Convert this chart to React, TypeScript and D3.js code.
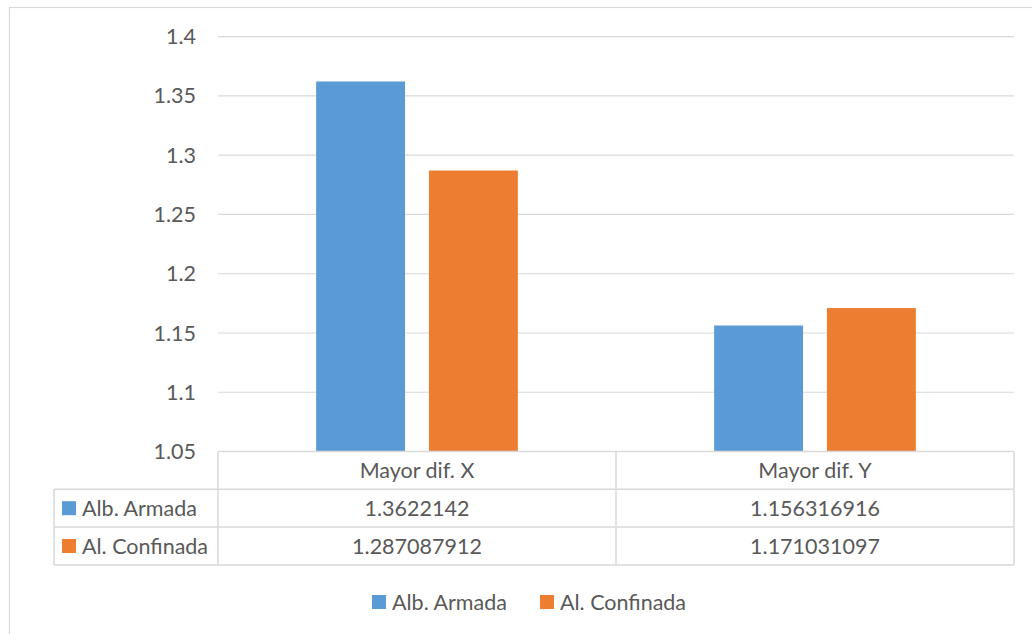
import * as d3 from 'd3'

const categories = ['Mayor dif. X', 'Mayor dif. Y']
const seriesNames = ['Alb. Armada', 'Al. Confinada']
const albArmada = [1.3622142, 1.156316916]
const alConfinada = [1.287087912, 1.171031097]
const tableLabels = [
  ['1.3622142', '1.156316916'],
  ['1.287087912', '1.171031097'],
]
const yTicks = [1.05, 1.1, 1.15, 1.2, 1.25, 1.3, 1.35, 1.4]
const colors = ['#5B9BD5', '#ED7D31']

const W = 1032
const H = 634
const font = 'Lato, "Open Sans", sans-serif'
const textColor = '#595959'
const gridColor = '#D9D9D9'
const fs = 21.5

export default function App() {
  const left = 218
  const right = 1014
  const top = 36.7
  const bottom = 451.5
  const labelLeft = 54
  const rowH = 37.8

  const y = d3.scaleLinear().domain([1.05, 1.4]).range([bottom, top])
  const x0 = d3.scaleBand<string>().domain(categories).range([left, right]).padding(0)
  const x1 = d3
    .scaleBand<string>()
    .domain(seriesNames)
    .range([0, x0.bandwidth()])
    .paddingInner(0.212)
    .paddingOuter(0.87)

  const series = [albArmada, alConfinada]

  return (
    <svg
      width={W}
      height={H}
      style={{ position: 'absolute', left: 0, top: 0, background: '#fff' }}
      fontFamily={font}
    >
      <rect x={9.5} y={7.5} width={1100} height={700} fill="#fff" stroke={gridColor} strokeWidth={1.2} />

      {/* gridlines + y ticks */}
      {yTicks.map((t) => (
        <g key={t}>
          {t > 1.05 && (
            <line x1={left} x2={right} y1={y(t)} y2={y(t)} stroke={gridColor} strokeWidth={1.2} />
          )}
          <text
            x={196}
            y={y(t)}
            dy="0.35em"
            textAnchor="end"
            fontSize={fs}
            fill={textColor}
          >
            {String(t)}
          </text>
        </g>
      ))}

      {/* bars */}
      {categories.map((c, i) => (
        <g key={c} transform={`translate(${x0(c)},0)`}>
          {series.map((s, j) => (
            <rect
              key={j}
              x={x1(seriesNames[j])}
              width={x1.bandwidth()}
              y={y(s[i])}
              height={bottom - y(s[i])}
              fill={colors[j]}
            />
          ))}
        </g>
      ))}

      {/* data table */}
      <g stroke={gridColor} strokeWidth={1.5} fill="none">
        <line x1={left} x2={right} y1={bottom} y2={bottom} />
        <line x1={labelLeft} x2={right} y1={bottom + rowH} y2={bottom + rowH} />
        <line x1={labelLeft} x2={right} y1={bottom + rowH * 2} y2={bottom + rowH * 2} />
        <line x1={labelLeft} x2={right} y1={bottom + rowH * 3} y2={bottom + rowH * 3} />
        <line x1={labelLeft} x2={labelLeft} y1={bottom + rowH} y2={bottom + rowH * 3} />
        <line x1={left} x2={left} y1={bottom} y2={bottom + rowH * 3} />
        {categories.map((c) => (
          <line
            key={c}
            x1={(x0(c) as number) + x0.bandwidth()}
            x2={(x0(c) as number) + x0.bandwidth()}
            y1={bottom}
            y2={bottom + rowH * 3}
          />
        ))}
      </g>
      {categories.map((c) => (
        <text
          key={c}
          x={(x0(c) as number) + x0.bandwidth() / 2}
          y={bottom + rowH / 2}
          dy="0.35em"
          textAnchor="middle"
          fontSize={fs}
          fill={textColor}
        >
          {c}
        </text>
      ))}
      {seriesNames.map((name, j) => (
        <g key={name}>
          <rect
            x={62}
            y={bottom + rowH * (j + 1) + rowH / 2 - 7}
            width={14}
            height={14}
            fill={colors[j]}
          />
          <text
            x={82}
            y={bottom + rowH * (j + 1) + rowH / 2}
            dy="0.35em"
            fontSize={fs}
            fill={textColor}
          >
            {name}
          </text>
          {categories.map((c, i) => (
            <text
              key={c}
              x={(x0(c) as number) + x0.bandwidth() / 2}
              y={bottom + rowH * (j + 1) + rowH / 2}
              dy="0.35em"
              textAnchor="middle"
              fontSize={fs}
              fill={textColor}
            >
              {tableLabels[j][i]}
            </text>
          ))}
        </g>
      ))}

      {/* legend */}
      {seriesNames.map((name, j) => {
        const lx = [372, 540][j]
        return (
          <g key={name} transform={`translate(${lx},602)`}>
            <rect x={0} y={-7} width={14} height={14} fill={colors[j]} />
            <text x={20} dy="0.35em" fontSize={fs} fill={textColor}>
              {name}
            </text>
          </g>
        )
      })}
    </svg>
  )
}
